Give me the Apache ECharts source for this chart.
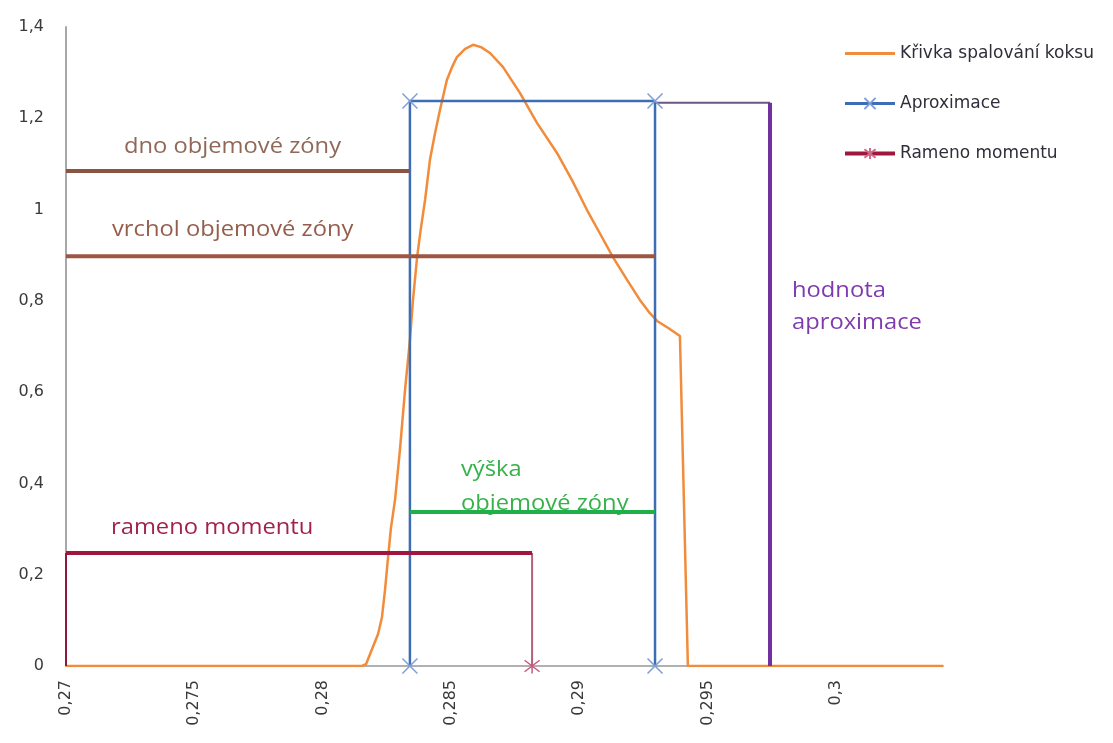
<!DOCTYPE html>
<html>
<head>
<meta charset="utf-8">
<script src="https://cdn.jsdelivr.net/npm/echarts@6/dist/echarts.min.js"></script>
<style>
  html, body { margin: 0; padding: 0; background: #fff; }
  #chart { width: 1113px; height: 743px; }
</style>
</head>
<body>
<div id="chart"></div>
<script>
// krivka spalovani koksu
var burnX = [0.27, 0.28153, 0.28169, 0.28196, 0.28216, 0.28231, 0.28243, 0.28255, 0.28266, 0.28282,
             0.28301, 0.28321, 0.28340, 0.28352, 0.28368, 0.28383, 0.28399, 0.28418, 0.28438, 0.28457,
             0.28484, 0.28504, 0.28523, 0.28555, 0.28586, 0.28617, 0.28652, 0.28703, 0.28769, 0.28835,
             0.28913, 0.28971, 0.29030, 0.29081, 0.29131, 0.29186, 0.29236, 0.29275, 0.29303, 0.29345,
             0.29392, 0.29423, 0.30417];
var burnY = [0, 0, 0.004, 0.042, 0.070, 0.107, 0.167, 0.239, 0.302, 0.364,
             0.473, 0.605, 0.714, 0.802, 0.896, 0.960, 1.021, 1.109, 1.168, 1.218,
             1.284, 1.312, 1.334, 1.352, 1.361, 1.356, 1.343, 1.312, 1.255, 1.190,
             1.124, 1.065, 0.999, 0.947, 0.896, 0.846, 0.802, 0.773, 0.756, 0.741,
             0.723, 0, 0];

// aproximace
var approxX = [0.28340, 0.28340, 0.29295, 0.29295];
var approxY = [0, 1.238, 1.238, 0];

// hodnota aproximace
var valueX = [0.29295, 0.29743];
var valueY = [1.234, 1.234];
var valueBarX = [0.29743, 0.29743];
var valueBarY = [1.234, 0];

// dno / vrchol objemove zony
var bottomX = [0.27, 0.28340];
var bottomY = [1.0845, 1.0845];
var topX = [0.27, 0.29295];
var topY = [0.898, 0.898];

// vyska objemove zony
var heightX = [0.28340, 0.29295];
var heightY = [0.3374, 0.3374];

// rameno momentu
var armX = [0.27, 0.28816];
var armY = [0.2476, 0.2476];
var armLeftX = [0.27, 0.27];
var armLeftY = [0, 0.2476];
var armRightX = [0.28816, 0.28816];
var armRightY = [0.2476, 0];

var xMin = 0.27, xMax = 0.30417, xStep = 0.005;
var yMin = 0, yMax = 1.4, yStep = 0.2;

function pairs(xs, ys) {
    var out = [];
    for (var i = 0; i < xs.length; i++) out.push([xs[i], ys[i]]);
    return out;
}

function comma(v, d) {
    var f = Math.pow(10, d);
    return String(Math.round(v * f) / f).replace('.', ',');
}

var crossPath = 'path://M0,0L10,10M10,0L0,10';
var starPath = 'path://M0,0L10,10M10,0L0,10M5,-1.5L5,11.5';

// only the bottom end of the right arm gets the star
var armRightData = pairs(armRightX, armRightY).map(function (p, i) {
    return i === 0 ? { value: p, symbol: 'none' } : { value: p };
});
var armData = pairs(armX, armY).map(function (p) { return { value: p, symbol: 'none' }; });

var myChart = echarts.init(document.getElementById('chart'));

var option = {
    animation: false,
    backgroundColor: '#fff',
    textStyle: { fontFamily: 'DejaVu Sans' },
    grid: { left: 66, top: 27, right: 170, bottom: 77, containLabel: false },
    legend: {
        orient: 'vertical',
        left: 838,
        top: 40,
        itemWidth: 50,
        itemHeight: 14,
        itemGap: 33,
        data: [
            { name: 'Křivka spalování koksu', icon: 'path://M0,0H50V3H0Z' },
            { name: 'Aproximace', lineStyle: { width: 3 } },
            { name: 'Rameno momentu', lineStyle: { width: 4 } }
        ],
        textStyle: { fontSize: 17, color: '#2f2f3a', fontFamily: 'DejaVu Sans' }
    },
    xAxis: {
        type: 'value',
        min: xMin,
        max: xMax,
        interval: xStep,
        axisLine: { show: true, lineStyle: { color: '#b0b0b0', width: 2 } },
        axisTick: { show: false },
        splitLine: { show: false },
        axisLabel: {
            rotate: 90,
            margin: 14,
            fontSize: 16,
            color: '#3a3a3a',
            showMaxLabel: false,
            formatter: function (v) { return comma(v, 3); }
        }
    },
    yAxis: {
        type: 'value',
        min: yMin,
        max: yMax,
        interval: yStep,
        axisLine: { show: true, lineStyle: { color: '#a8a8a8', width: 2 } },
        axisTick: { show: false },
        splitLine: { show: false },
        axisLabel: {
            margin: 22,
            fontSize: 16,
            color: '#3a3a3a',
            formatter: function (v) { return comma(v, 1); }
        }
    },
    series: [
        {
            name: 'Křivka spalování koksu',
            type: 'line',
            data: pairs(burnX, burnY),
            symbol: 'none',
            lineStyle: { color: '#f28c3a', width: 2.5, join: 'round' },
            itemStyle: { color: '#f28c3a' },
            z: 2
        },
        {
            name: 'Aproximace',
            type: 'line',
            data: pairs(approxX, approxY),
            symbol: crossPath,
            symbolSize: 15,
            lineStyle: { color: '#3d6db4', width: 2.5 },
            itemStyle: { color: '#7d9fd6', borderColor: '#7d9fd6', borderWidth: 1.5 },
            z: 3
        },
        {
            name: 'hodnota',
            type: 'line',
            data: pairs(valueX, valueY),
            symbol: 'none',
            lineStyle: { color: '#6e5585', width: 2 },
            z: 3
        },
        {
            name: 'hodnota svisle',
            type: 'line',
            data: pairs(valueBarX, valueBarY),
            symbol: 'none',
            lineStyle: { color: '#7030a0', width: 4 },
            z: 4
        },
        {
            name: 'dno',
            type: 'line',
            data: pairs(bottomX, bottomY),
            symbol: 'none',
            lineStyle: { color: '#8a5444', width: 4 },
            z: 4
        },
        {
            name: 'vrchol',
            type: 'line',
            data: pairs(topX, topY),
            symbol: 'none',
            lineStyle: { color: '#9c5642', width: 4 },
            z: 4
        },
        {
            name: 'vyska',
            type: 'line',
            data: pairs(heightX, heightY),
            symbol: 'none',
            lineStyle: { color: '#1fb04a', width: 4 },
            z: 4
        },
        {
            name: 'rameno vlevo',
            type: 'line',
            data: pairs(armLeftX, armLeftY),
            symbol: 'none',
            lineStyle: { color: '#8c1a3c', width: 2 },
            z: 4
        },
        {
            name: 'rameno vpravo',
            type: 'line',
            data: armRightData,
            symbol: starPath,
            showAllSymbol: true,
            symbolSize: 15,
            lineStyle: { color: '#b4607c', width: 2 },
            itemStyle: { color: '#c45a7c', borderColor: '#c45a7c', borderWidth: 1.5 },
            z: 4
        },
        {
            name: 'Rameno momentu',
            type: 'line',
            data: armData,
            symbol: starPath,
            symbolSize: 14,
            lineStyle: { color: '#a0163e', width: 4 },
            itemStyle: { color: '#d06a8a', borderColor: '#d06a8a', borderWidth: 1.5 },
            z: 5
        }
    ],
    graphic: [
        { type: 'text', left: 124, top: 137, scaleX: 1.13, style: { text: 'dno objemové zóny', fill: '#8f6858', font: '21px "Open Sans"' } },
        { type: 'text', left: 112, top: 220, scaleX: 1.13, style: { text: 'vrchol objemové zóny', fill: '#955e4c', font: '21px "Open Sans"' } },
        { type: 'text', left: 111, top: 518, scaleX: 1.13, style: { text: 'rameno momentu', fill: '#a3224c', font: '21px "Open Sans"' } },
        { type: 'text', left: 461, top: 453, scaleX: 1.13, style: { text: 'výška\nobjemové zóny', fill: '#36b24a', font: '21px "Open Sans"', lineHeight: 34 } },
        { type: 'text', left: 792, top: 275, scaleX: 1.13, style: { text: 'hodnota\naproximace', fill: '#7e3aae', font: '21px "Open Sans"', lineHeight: 32 } }
    ]
};

myChart.setOption(option);
</script>
</body>
</html>
